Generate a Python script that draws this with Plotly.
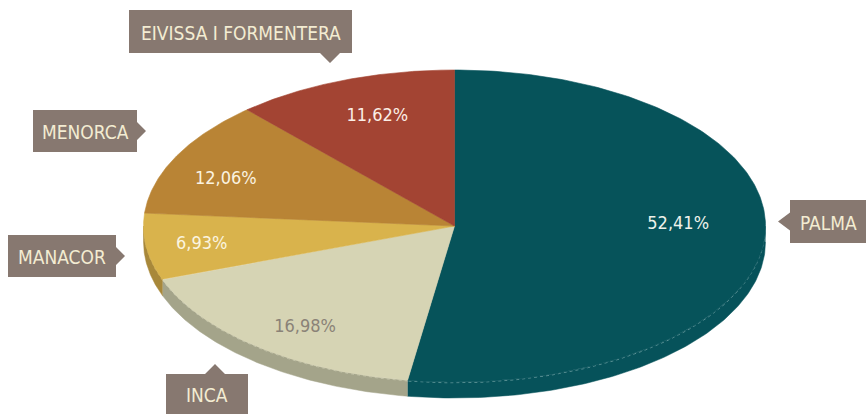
import numpy as np
import plotly.graph_objects as go

# ---- data ----
regions = ["PALMA", "INCA", "MANACOR", "MENORCA", "EIVISSA I FORMENTERA"]
shares = [52.41, 16.98, 6.93, 12.06, 11.62]
pct_labels = ["52,41%", "16,98%", "6,93%", "12,06%", "11,62%"]
top_colors = ["#06535a", "#d6d4b4", "#d9b34c", "#b98435", "#a34433"]
side_colors = ["#06525a", "#a4a48a", "#a8883a", "#94692a", "#82362a"]
edge_colors = ["#5f9598", "#c2c2a8", "#c4a65c", "#b0884a", "#a05a4c"]
text_colors = ["#eef2ea", "#8a8277", "#fbf5e0", "#fbf3e0", "#fbeee6"]

# ---- geometry (pixel space) ----
W, H = 866, 414
cx, cy, rx, ry, depth = 454.5, 226, 311, 156, 16
FONT = "DejaVu Sans Condensed, Liberation Sans Narrow, Roboto, sans-serif"

def pt(t, dy=0.0):
    return cx + rx * np.sin(t), cy - ry * np.cos(t) + dy

fig = go.Figure()
total = sum(shares)
bounds = np.concatenate([[0], np.cumsum(shares)]) / total * 2 * np.pi

# side faces
for i in range(len(shares)):
    a, b = max(bounds[i], np.pi / 2), min(bounds[i + 1], 3 * np.pi / 2)
    if b <= a:
        continue
    t = np.linspace(a, b, 120)
    x1, y1 = pt(t)
    x2, y2 = pt(t[::-1], depth)
    fig.add_trace(go.Scatter(x=np.concatenate([x1, x2]), y=np.concatenate([y1, y2]),
                             fill="toself", fillcolor=side_colors[i], mode="lines",
                             line=dict(width=0.5, color=side_colors[i]), hoverinfo="skip",
                             showlegend=False))
    fig.add_trace(go.Scatter(x=x1, y=y1 + 0.8, mode="lines",
                             line=dict(width=1, color=edge_colors[i], dash="dot"),
                             hoverinfo="skip", showlegend=False))

# top faces
for i in range(len(shares)):
    t = np.linspace(bounds[i], bounds[i + 1], 200)
    x, y = pt(t)
    fig.add_trace(go.Scatter(x=np.concatenate([[cx], x, [cx]]), y=np.concatenate([[cy], y, [cy]]),
                             fill="toself", fillcolor=top_colors[i], mode="lines",
                             line=dict(width=0.6, color=top_colors[i]), hoverinfo="skip",
                             showlegend=False))

# percentage labels (placed along each slice's mid-angle, with small nudges)
frac = [0.76, 0.78, 0.82, 0.80, 0.74]
nudge = [(-12, -10), (4, 7), (0, 1), (-6, 9), (5, -2)]
for i in range(len(shares)):
    m = (bounds[i] + bounds[i + 1]) / 2
    x = cx + rx * frac[i] * np.sin(m) + nudge[i][0]
    y = cy - ry * frac[i] * np.cos(m) + nudge[i][1]
    fig.add_trace(go.Scatter(x=[x], y=[y], mode="text", text=[pct_labels[i]],
                             textfont=dict(family=FONT, size=18, color=text_colors[i]),
                             hoverinfo="skip", showlegend=False))

# callout boxes
BOX = "#877870"
boxes = {
    "PALMA": (790, 200, 866, 243, "left"),
    "INCA": (166, 374, 248, 414, "up"),
    "MANACOR": (8, 235, 116, 277, "right"),
    "MENORCA": (33, 110, 137, 152, "right"),
    "EIVISSA I FORMENTERA": (129, 10, 352, 53, "down"),
}
shapes, annots = [], []
for name, (x0, y0, x1, y1, side) in boxes.items():
    if side == "left":
        ym = (y0 + y1) / 2
        p = f"M{x0},{y0} L{x1},{y0} L{x1},{y1} L{x0},{y1} L{x0},{ym+9} L{x0-12},{ym} L{x0},{ym-9} Z"
    elif side == "right":
        ym = (y0 + y1) / 2
        p = f"M{x0},{y0} L{x1},{y0} L{x1},{ym-9} L{x1+9},{ym} L{x1},{ym+9} L{x1},{y1} L{x0},{y1} Z"
    elif side == "up":
        xm = 215
        p = f"M{x0},{y0} L{xm-10},{y0} L{xm},{y0-10} L{xm+10},{y0} L{x1},{y0} L{x1},{y1} L{x0},{y1} Z"
    else:
        xm = 330
        p = f"M{x0},{y0} L{x1},{y0} L{x1},{y1} L{xm+10},{y1} L{xm},{y1+10} L{xm-10},{y1} L{x0},{y1} Z"
    shapes.append(dict(type="path", path=p, xref="x", yref="y", fillcolor=BOX,
                       line=dict(width=0), layer="above"))
    annots.append(dict(x=(x0 + x1) / 2, y=(y0 + y1) / 2 + 1, xref="x", yref="y", text=name,
                       showarrow=False, font=dict(family=FONT, size=19, color="#f3ecd2")))

fig.update_layout(
    width=W, height=H, margin=dict(l=0, r=0, t=0, b=0),
    paper_bgcolor="white", plot_bgcolor="white",
    xaxis=dict(range=[0, W], visible=False, fixedrange=True),
    yaxis=dict(range=[H, 0], visible=False, fixedrange=True),
    shapes=shapes, annotations=annots, showlegend=False,
)
fig.write_html("out.html", config={"displayModeBar": False},
               post_script="document.body.style.margin='0';document.body.style.overflow='hidden';")
